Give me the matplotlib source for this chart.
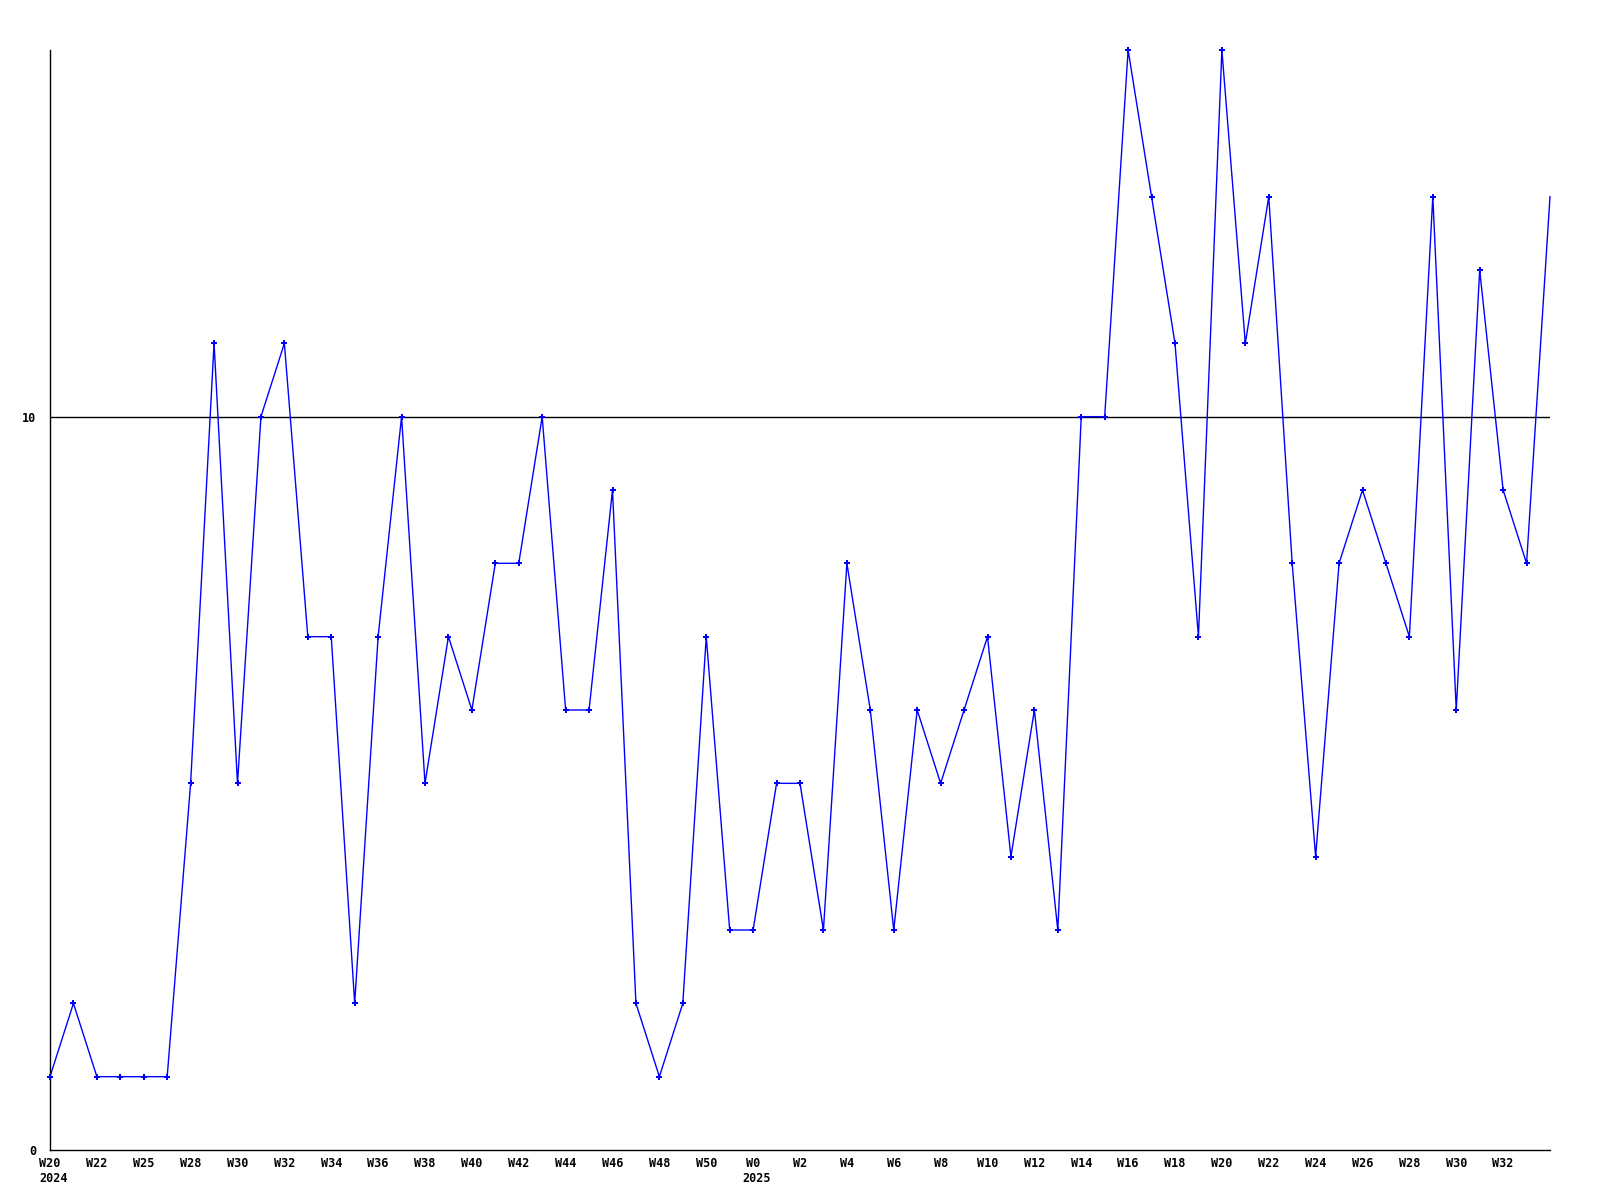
import matplotlib
matplotlib.use("Agg")
import matplotlib.pyplot as plt
from matplotlib import transforms

values = [1, 2, 1, 1, 1, 1, 5, 11, 5, 10, 11, 7, 7, 2, 7, 10, 5, 7, 6, 8,
          8, 10, 6, 6, 9, 2, 1, 2, 7, 3, 3, 5, 5, 3, 8, 6, 3, 6, 5, 6,
          7, 4, 6, 3, 10, 10, 15, 13, 11, 7, 15, 11, 13, 8, 4, 8, 9, 8, 7, 13,
          6, 12, 9, 8, 13]
tick_labels = ["W20", "W22", "W25", "W28", "W30", "W32", "W34", "W36", "W38", "W40",
               "W42", "W44", "W46", "W48", "W50", "W0", "W2", "W4", "W6", "W8",
               "W10", "W12", "W14", "W16", "W18", "W20", "W22", "W24", "W26", "W28",
               "W30", "W32"]
year_labels = {0: "2024", 30: "2025"}
y_ticks = [0, 10]
threshold = 10

x = list(range(len(values)))
tick_pos = [2 * i for i in range(len(tick_labels))]

fig = plt.figure(figsize=(16, 12), dpi=100)
ax = fig.add_axes([50 / 1600, 50 / 1200, 1500 / 1600, 1100 / 1200])

ax.plot(x[:-1], values[:-1], color="#0000ff", lw=0, marker="P", markersize=4,
        markeredgewidth=0, clip_on=False, zorder=3)
ax.plot(x, values, color="#0000ff", lw=1.0, clip_on=False, zorder=2)
ax.axhline(threshold, color="black", lw=1.0, zorder=1)

ax.set_xlim(0, len(values) - 1)
ax.set_ylim(0, 15)

font = dict(family="DejaVu Sans Mono", weight="bold", size=8.5)
ax.set_xticks(tick_pos)
ax.set_xticklabels(tick_labels, **font)
ax.set_yticks(y_ticks)
ax.set_yticklabels([str(v) for v in y_ticks], **font)
ax.tick_params(axis="both", length=0)
ax.tick_params(axis="x", pad=5)
ax.tick_params(axis="y", pad=10)

for s in ["top", "right"]:
    ax.spines[s].set_visible(False)
for s in ["left", "bottom"]:
    ax.spines[s].set_color("black")
    ax.spines[s].set_linewidth(1.0)

trans = transforms.blended_transform_factory(ax.transData, ax.transAxes)
for idx, label in year_labels.items():
    ax.text(idx, -0.02, label,
            transform=trans + transforms.ScaledTranslation(-0.11, 0, fig.dpi_scale_trans),
            ha="left", va="top", **font)

fig.savefig("out.png", dpi=100, facecolor="white")
